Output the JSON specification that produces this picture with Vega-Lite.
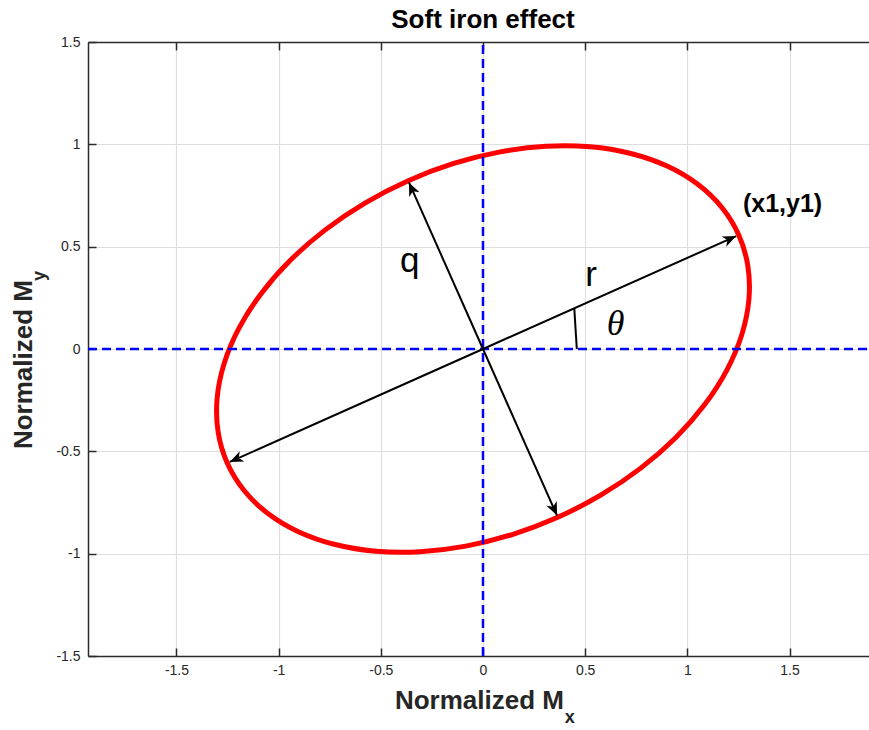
{
  "$schema": "https://vega.github.io/schema/vega-lite/v6.json",
  "width": 781,
  "height": 614,
  "autosize": "none",
  "padding": {"left": 88, "top": 42, "right": 0, "bottom": 74},
  "background": "white",
  "config": {
    "view": {"stroke": null},
    "text": {"font": "Liberation Sans"}
  },
  "encoding": {
    "x": {"field": "x", "type": "quantitative", "scale": {"domain": [-1.933, 1.889], "nice": false, "zero": false}, "axis": null},
    "y": {"field": "y", "type": "quantitative", "scale": {"domain": [-1.5, 1.5], "nice": false, "zero": false}, "axis": null}
  },
  "layer": [
    {
      "description": "Distorted magnetometer readings: ellipse centred on the origin",
      "data": {"values": [
        {"t": 0, "x": 1.25156, "y": 0.55723},
        {"t": 10, "x": 1.16898, "y": 0.69154},
        {"t": 20, "x": 1.05088, "y": 0.80483},
        {"t": 30, "x": 0.90085, "y": 0.89368},
        {"t": 40, "x": 0.72344, "y": 0.95536},
        {"t": 50, "x": 0.52407, "y": 0.98801},
        {"t": 60, "x": 0.30875, "y": 0.99066},
        {"t": 70, "x": 0.08407, "y": 0.96318},
        {"t": 80, "x": -0.14318, "y": 0.90646},
        {"t": 90, "x": -0.36607, "y": 0.82219},
        {"t": 100, "x": -0.57784, "y": 0.71294},
        {"t": 110, "x": -0.77205, "y": 0.58202},
        {"t": 120, "x": -0.94281, "y": 0.43342},
        {"t": 130, "x": -1.08491, "y": 0.27165},
        {"t": 140, "x": -1.19406, "y": 0.10164},
        {"t": 150, "x": -1.26693, "y": -0.07148},
        {"t": 160, "x": -1.30128, "y": -0.24241},
        {"t": 170, "x": -1.29612, "y": -0.406},
        {"t": 180, "x": -1.25156, "y": -0.55723},
        {"t": 190, "x": -1.16898, "y": -0.69154},
        {"t": 200, "x": -1.05088, "y": -0.80483},
        {"t": 210, "x": -0.90085, "y": -0.89368},
        {"t": 220, "x": -0.72344, "y": -0.95536},
        {"t": 230, "x": -0.52407, "y": -0.98801},
        {"t": 240, "x": -0.30875, "y": -0.99066},
        {"t": 250, "x": -0.08407, "y": -0.96318},
        {"t": 260, "x": 0.14318, "y": -0.90646},
        {"t": 270, "x": 0.36607, "y": -0.82219},
        {"t": 280, "x": 0.57784, "y": -0.71294},
        {"t": 290, "x": 0.77205, "y": -0.58202},
        {"t": 300, "x": 0.94281, "y": -0.43342},
        {"t": 310, "x": 1.08491, "y": -0.27165},
        {"t": 320, "x": 1.19406, "y": -0.10164},
        {"t": 330, "x": 1.26693, "y": 0.07148},
        {"t": 340, "x": 1.30128, "y": 0.24241},
        {"t": 350, "x": 1.29612, "y": 0.406}
      ]},
      "mark": {"type": "line", "color": "#ff0000", "strokeWidth": 5, "interpolate": "cardinal-closed"},
      "encoding": {
        "x": {
          "field": "x", "type": "quantitative",
          "scale": {"domain": [-1.933, 1.889], "nice": false, "zero": false},
          "axis": {
            "orient": "bottom", "title": null,
            "values": [-1.5, -1, -0.5, 0, 0.5, 1, 1.5],
            "labelExpr": "'' + datum.value",
            "grid": true, "gridColor": "#dedede", "gridWidth": 1.2,
            "domainColor": "#2b2b2b", "domainWidth": 1.5,
            "tickColor": "#2b2b2b", "tickWidth": 1.5, "tickSize": -8,
            "labelFont": "Liberation Sans", "labelFontSize": 14, "labelColor": "#262626",
            "labelPadding": 15, "labelBaseline": "top"
          }
        },
        "y": {
          "field": "y", "type": "quantitative",
          "scale": {"domain": [-1.5, 1.5], "nice": false, "zero": false},
          "axis": {
            "orient": "left", "title": null,
            "values": [-1.5, -1, -0.5, 0, 0.5, 1, 1.5],
            "labelExpr": "'' + datum.value",
            "grid": true, "gridColor": "#dedede", "gridWidth": 1.2,
            "domainColor": "#2b2b2b", "domainWidth": 1.5,
            "tickColor": "#2b2b2b", "tickWidth": 1.5, "tickSize": -8,
            "labelFont": "Liberation Sans", "labelFontSize": 14, "labelColor": "#262626",
            "labelPadding": 16
          }
        },
        "order": {"field": "t", "type": "quantitative"}
      }
    },
    {
      "description": "Vertical zero line; carries the top border of the box",
      "data": {"values": [{"x": 0, "y": -1.5, "y2": 1.5}]},
      "mark": {"type": "rule", "color": "#0000ff", "strokeWidth": 2.5, "strokeDash": [9, 5]},
      "encoding": {
        "x": {
          "field": "x", "type": "quantitative",
          "scale": {"domain": [-1.933, 1.889], "nice": false, "zero": false},
          "axis": {
            "orient": "top", "title": null, "labels": false, "grid": false,
            "values": [-1.5, -1, -0.5, 0, 0.5, 1, 1.5],
            "domainColor": "#2b2b2b", "domainWidth": 1.5,
            "tickColor": "#2b2b2b", "tickWidth": 1.5, "tickSize": -8
          }
        },
        "y2": {"field": "y2"}
      }
    },
    {
      "description": "Horizontal zero line",
      "data": {"values": [{"x": -1.933, "x2": 1.889, "y": 0}]},
      "mark": {"type": "rule", "color": "#0000ff", "strokeWidth": 2.5, "strokeDash": [9, 5]},
      "encoding": {"x2": {"field": "x2"}}
    },
    {
      "description": "Arrow shafts from the centre to the ends of the axes r and q",
      "data": {"name": "tips", "values": [
        {"x": 1.239, "y": 0.5517, "heading": 24},
        {"x": -1.239, "y": -0.5517, "heading": 204},
        {"x": -0.3624, "y": 0.814, "heading": 114},
        {"x": 0.3624, "y": -0.814, "heading": 294}
      ]},
      "mark": {"type": "rule", "color": "#000000", "strokeWidth": 2},
      "encoding": {"x2": {"datum": 0}, "y2": {"datum": 0}}
    },
    {
      "description": "Arc marking the tilt angle",
      "data": {"values": [{"x": 0.459, "y": 0, "x2": 0.447, "y2": 0.196}]},
      "mark": {"type": "rule", "color": "#000000", "strokeWidth": 2},
      "encoding": {"x2": {"field": "x2"}, "y2": {"field": "y2"}}
    },
    {
      "description": "Arrow heads",
      "data": {"name": "tips"},
      "mark": {
        "type": "point", "filled": true, "opacity": 1, "color": "#000000", "strokeWidth": 0,
        "shape": "M0,0L0.42,1L0,0.72L-0.42,1Z", "size": 720
      },
      "encoding": {
        "angle": {"field": "heading", "type": "quantitative", "scale": {"domain": [0, 360], "range": [90, -270]}}
      }
    },
    {
      "data": {"values": [
        {"x": -0.359, "y": 0.376, "label": "q"},
        {"x": 0.529, "y": 0.308, "label": "r"}
      ]},
      "mark": {"type": "text", "font": "Liberation Sans", "fontSize": 35, "color": "#000000", "align": "center", "baseline": "alphabetic"},
      "encoding": {"text": {"field": "label"}}
    },
    {
      "data": {"values": [{"x": 0.649, "y": 0.068, "label": "θ"}]},
      "mark": {"type": "text", "font": "Liberation Serif", "fontStyle": "italic", "fontSize": 36, "color": "#000000", "align": "center", "baseline": "alphabetic"},
      "encoding": {"text": {"field": "label"}}
    },
    {
      "data": {"values": [{"x": 1.466, "y": 0.671, "label": "(x1,y1)"}]},
      "mark": {"type": "text", "font": "Liberation Sans", "fontWeight": "bold", "fontSize": 25, "color": "#000000", "align": "center", "baseline": "alphabetic"},
      "encoding": {"text": {"field": "label"}}
    },
    {
      "description": "Chart title",
      "data": {"values": [{"x": 0, "y": 1.567, "label": "Soft iron effect"}]},
      "mark": {"type": "text", "font": "Liberation Sans", "fontWeight": "bold", "fontSize": 26, "color": "#000000", "align": "center", "baseline": "alphabetic"},
      "encoding": {"text": {"field": "label"}}
    },
    {
      "description": "x-axis title",
      "data": {"values": [{"x": 0.396, "y": -1.76, "label": "Normalized M"}]},
      "mark": {"type": "text", "font": "Liberation Sans", "fontWeight": "bold", "fontSize": 26, "color": "#262626", "align": "right", "baseline": "alphabetic"},
      "encoding": {"text": {"field": "label"}}
    },
    {
      "description": "x-axis title subscript",
      "data": {"values": [{"x": 0.4, "y": -1.829, "label": "x"}]},
      "mark": {"type": "text", "font": "Liberation Sans", "fontWeight": "bold", "fontSize": 18, "color": "#262626", "align": "left", "baseline": "alphabetic"},
      "encoding": {"text": {"field": "label"}}
    },
    {
      "description": "y-axis title",
      "data": {"values": [{"x": -2.2076, "y": 0.337, "label": "Normalized M"}]},
      "mark": {"type": "text", "font": "Liberation Sans", "fontWeight": "bold", "fontSize": 26, "color": "#262626", "align": "right", "baseline": "alphabetic", "angle": 270},
      "encoding": {"text": {"field": "label"}}
    },
    {
      "description": "y-axis title subscript",
      "data": {"values": [{"x": -2.141, "y": 0.332, "label": "y"}]},
      "mark": {"type": "text", "font": "Liberation Sans", "fontWeight": "bold", "fontSize": 18, "color": "#262626", "align": "left", "baseline": "alphabetic", "angle": 270},
      "encoding": {"text": {"field": "label"}}
    }
  ],
  "resolve": {"axis": {"x": "independent", "y": "independent"}}
}
